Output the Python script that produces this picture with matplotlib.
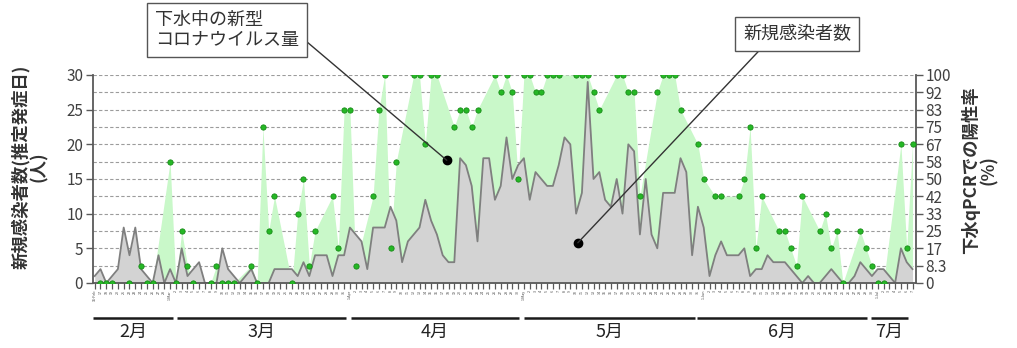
import numpy as np
import pandas as pd
import matplotlib
matplotlib.use('Agg')
import matplotlib.pyplot as plt

plt.rcParams['font.family'] = ['Noto Sans CJK JP', 'DejaVu Sans']

nan = np.nan

# daily data, 2021-02-16 .. 2021-07-07
dates = pd.date_range('2021-02-16', '2021-07-07')

# new cases by estimated onset date (people)
new_cases = [
    1, 2, 0, 1, 2, 8, 4, 8, 2, 1, 0, 4, 0, 2, 0, 5, 1, 2, 3, 0,
    0, 0, 5, 2, 1, 0, 1, 2, 0, 0, 0, 2, 2, 2, 2, 1, 3, 1, 4, 4,
    4, 1, 4, 4, 8, 7, 6, 2, 8, 8, 8, 11, 9, 3, 6, 7, 8, 12, 9, 7,
    4, 3, 3, 18, 17, 14, 6, 18, 18, 12, 14, 21, 15, 17, 18, 12, 16, 15, 14, 14,
    17, 21, 20, 10, 13, 29, 15, 16, 12, 11, 15, 10, 20, 19, 7, 15, 7, 5, 13, 13,
    13, 18, 16, 4, 11, 8, 1, 4, 6, 4, 4, 4, 5, 1, 2, 2, 4, 3, 3, 3,
    2, 1, 0, 1, 0, 0, 1, 2, 1, 0, 0, 1, 3, 2, 1, 2, 2, 1, 0, 5,
    3, 2,
]

# sewage qPCR positive rate (%), nan = no sampling that day
positive_rate = [
    nan, 0, 0, 0, nan, nan, 0, nan, 8.3, 0, 0, nan, nan, 58.3, 0, 25, 8.3, 0, nan, nan,
    0, 8.3, 0, 0, 0, nan, nan, 8.3, 0, 75, 25, 41.7, nan, nan, 0, 33.3, 50, 8.3, 25, nan,
    nan, 41.7, 16.7, 83.3, 83.3, 8.3, nan, nan, 41.7, 83.3, 100, 16.7, 58.3, nan, nan, 100, 100, 66.7, 100, 100,
    nan, nan, 75, 83.3, 83.3, 75, 83.3, nan, nan, 100, 91.7, 100, 91.7, 50, 100, 100, 91.7, 91.7, 100, 100,
    100, nan, nan, 100, 100, 100, 91.7, 83.3, nan, nan, 100, 100, 91.7, 91.7, 41.7, nan, nan, 91.7, 100, 100,
    100, 83.3, nan, nan, 66.7, 50, nan, 41.7, 41.7, nan, nan, 41.7, 50, 75, 16.7, 41.7, nan, nan, 25, 25,
    16.7, 8.3, 41.7, nan, nan, 25, 33.3, 16.7, 25, 0, nan, nan, 25, 16.7, 8.3, 0, 0, nan, nan, 66.7,
    16.7, 66.7,
]

rate_ticks = ['0', '8.3', '17', '25', '33', '42', '50', '58', '67', '75', '83', '92', '100']
month_names = ['2月', '3月', '4月', '5月', '6月', '7月']

x = np.arange(len(dates))
cases = np.array(new_cases)
rate = np.array(positive_rate, dtype=float)
has = ~np.isnan(rate)

fig = plt.figure(figsize=(10.17, 3.48), dpi=100)
ax = fig.add_axes([0.0914, 0.1868, 0.809, 0.5977])
ax2 = ax.twinx()
ax3 = ax.twinx()
ax2.set_zorder(1)
ax.set_zorder(2)
ax3.set_zorder(3)
ax.patch.set_visible(False)

# positive rate area (bottom layer)
ax2.fill_between(x[has], rate[has], 0, color='#c9f8c9', lw=0)
ax2.set_ylim(0, 100)
ax2.set_yticks(np.arange(13) * 100 / 12)
ax2.set_yticklabels(rate_ticks)
ax2.yaxis.grid(True, linestyle=(0, (3, 2)), color='#9c9c9c', lw=0.8)
ax2.set_axisbelow(True)
for s in ['left', 'top', 'bottom']:
    ax2.spines[s].set_visible(False)
ax2.spines['right'].set_color('#595959')
ax2.spines['right'].set_linewidth(1.3)
ax2.tick_params(axis='y', length=5, width=1, color='#595959',
                labelsize=11, labelcolor='#404040', pad=2)

# new cases area
ax.fill_between(x, cases, 0, color='#d3d3d3', lw=0)
ax.plot(x, cases, color='#7f7f7f', lw=1.3)
ax.set_ylim(0, 30)
ax.set_xlim(-0.3, 141.55)
ax.set_yticks(range(0, 31, 5))
for s in ['right', 'top']:
    ax.spines[s].set_visible(False)
for s in ['left', 'bottom']:
    ax.spines[s].set_color('#595959')
    ax.spines[s].set_linewidth(1.3)
ax.tick_params(axis='y', length=5, width=1, color='#595959',
               labelsize=11, labelcolor='#404040', pad=2)

labels = []
for d in dates:
    if d.day == 1 or d == dates[0]:
        labels.append(f'{d.day}-{d:%b}')
    else:
        labels.append(str(d.day))
ax.set_xticks(x)
ax.set_xticklabels(labels, rotation=90, fontsize=2.6, color='#444444')
ax.tick_params(axis='x', length=4, width=0.9, color='#595959', pad=1)

# sample points on top
ax3.set_ylim(0, 100)
ax3.plot(x[has], rate[has], 'o', ls='none', ms=3.8,
         mfc='#25b825', mec='#178a17', mew=0.6)
ax3.set_axis_off()

# month bars below the date labels
trans = ax.get_xaxis_transform()
month_spans = [(-0.24, 13.45), (14.14, 43.33), (44.2, 73.16),
               (74.0, 103.5), (103.9, 133.1), (133.8, 140.3)]
for name, (a, b) in zip(month_names, month_spans):
    ax.plot([a, b], [-0.168, -0.168], transform=trans, clip_on=False,
            color='#1a1a1a', lw=1.8, solid_capstyle='butt')
    ax.text((a + b) / 2, -0.235, name, transform=trans, ha='center',
            va='center', fontsize=13, color='#222222')

# axis titles
fig.text(0.029, 0.52, '新規感染者数(推定発症日)\n(人)', rotation=90,
         ha='center', va='center', multialignment='center',
         fontsize=12.5, fontweight='bold', color='#333333', linespacing=1.0)
fig.text(0.963, 0.51, '下水qPCRでの陽性率\n(%)', rotation=90,
         ha='center', va='center', multialignment='center',
         fontsize=12.5, fontweight='bold', color='#333333', linespacing=1.0)

# callouts
box = dict(boxstyle='square,pad=0.45', fc='white', ec='#555555', lw=1)
ax.plot([60.7], [17.7], 'o', color='black', ms=6, zorder=10)
ax.plot([83.3], [5.8], 'o', color='black', ms=6, zorder=10)
ax3.annotate('下水中の新型\nコロナウイルス量', xy=(60.7, 17.7), xycoords=ax.transData,
             xytext=(0.2232, 0.914), textcoords='figure fraction',
             ha='center', va='center', multialignment='left', fontsize=13,
             color='#333333', bbox=box, linespacing=1.1,
             arrowprops=dict(arrowstyle='-', color='#333333', lw=1,
                             relpos=(1.0, 0.36), shrinkA=0, shrinkB=0))
ax3.annotate('新規感染者数', xy=(83.3, 5.8), xycoords=ax.transData,
             xytext=(0.7837, 0.902), textcoords='figure fraction',
             ha='center', va='center', fontsize=13, color='#333333', bbox=box,
             arrowprops=dict(arrowstyle='-', color='#333333', lw=1,
                             relpos=(0.215, 0.0), shrinkA=0, shrinkB=0))

fig.savefig('out.png', dpi=100)
